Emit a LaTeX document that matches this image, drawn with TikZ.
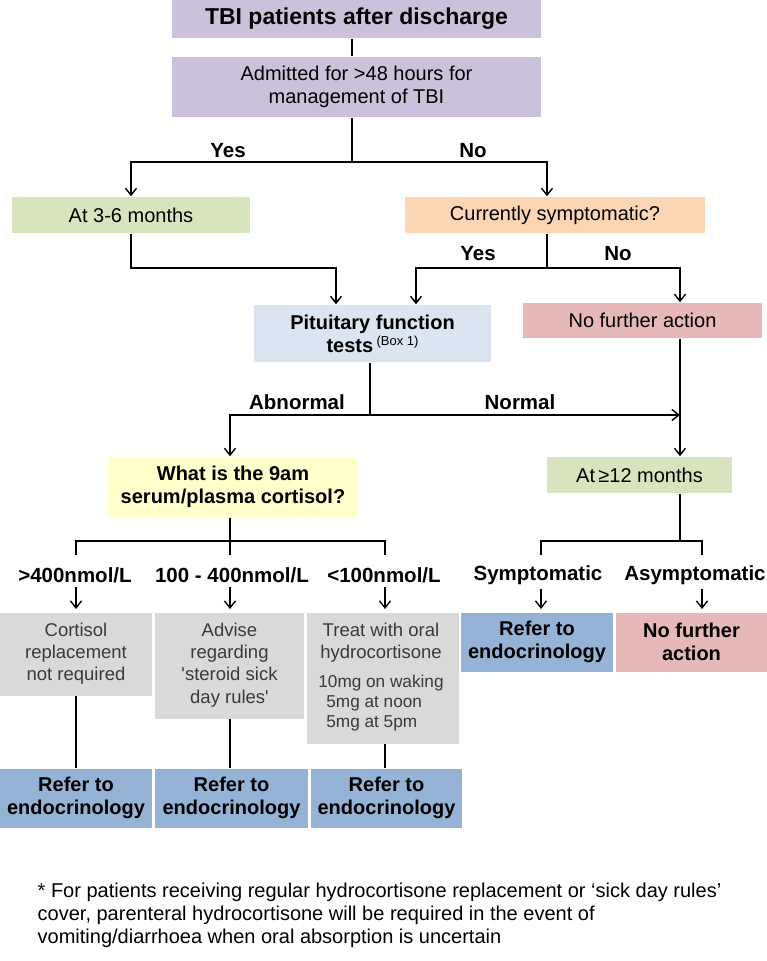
\documentclass[tikz,border=0pt]{standalone}
\usepackage{fontspec}
\setmainfont{Liberation Sans}
\usetikzlibrary{arrows.meta,calc}
\definecolor{cpurple}{HTML}{CCC1DA}
\definecolor{cgreen}{HTML}{D7E4BD}
\definecolor{corange}{HTML}{FCD5B5}
\definecolor{cltblue}{HTML}{DBE5F1}
\definecolor{cpink}{HTML}{E6B9B8}
\definecolor{cyellow}{HTML}{FFFFCC}
\definecolor{cgray}{HTML}{D9D9D9}
\definecolor{cblue}{HTML}{95B3D7}
\definecolor{gtext}{HTML}{3A3A3A}
\newcommand\straightq{\XeTeXglyph\XeTeXcharglyph"27\relax}
\begin{document}
\begin{tikzpicture}[x=1pt,y=-1pt, line width=1.4pt,
  box/.style={rectangle, inner sep=0pt, align=center, font=\fontsize{20}{23}\selectfont},
  bbox/.style={box, font=\fontsize{20}{23}\selectfont\bfseries},
  gbox/.style={box, fill=cgray, text=gtext, font=\fontsize{18.5}{22.3}\selectfont},
  lab/.style={inner sep=1pt, font=\fontsize{20.5}{24}\selectfont\bfseries},
  arr/.style={-{Straight Barb[length=7pt,width=11pt,line width=1.4pt]}}]
\useasboundingbox (0,0) rectangle (767,961);

% top
\node[bbox, fill=cpurple, minimum width=369, minimum height=38, font=\fontsize{23}{27}\selectfont\bfseries] (n1) at (356.5,19) {TBI patients after discharge};
\node[box, fill=cpurple, minimum width=369, minimum height=60] (n2) at (356.5,87) {Admitted for >48 hours for\\management of TBI};
\node[box, fill=cgreen, minimum width=238, minimum height=36] (n3) at (131,215) {At 3-6 months};
\node[box, fill=corange, minimum width=300, minimum height=36] (n4) at (555,215) {Currently symptomatic?};
\node[bbox, fill=cltblue, minimum width=237, minimum height=57] (n5) at (372.5,333.5) {Pituitary function\\tests\,{\mdseries\fontsize{13}{15}\selectfont\raisebox{6.5pt}{(Box 1)}}};
\node[box, fill=cpink, minimum width=239, minimum height=35] (n6) at (642.5,320.5) {No further action};
\node[bbox, fill=cyellow, minimum width=250, minimum height=60] (n7) at (233,487) {What is the 9am\\serum/plasma cortisol?};
\node[box, fill=cgreen, minimum width=185, minimum height=36] (n8) at (639.5,475) {At\,≥12 months};

% labels
\node[lab] (ly1) at (228,151) {Yes};
\node[lab] (ln1) at (473,151) {No};
\node[lab] (ly2) at (478,254) {Yes};
\node[lab] (ln2) at (618,254) {No};
\node[lab] (lab1) at (297,402) {Abnormal};
\node[lab] (lab2) at (520,402) {Normal};
\node[lab] (l1) at (75,575) {>400nmol/L};
\node[lab] (l2) at (232,575) {100 - 400nmol/L};
\node[lab] (l3) at (384,575) {<100nmol/L};
\node[lab] (l4) at (538,575) {Symptomatic};
\node[lab] (l5) at (695,575) {Asymptomatic};

% bottom row
\node[gbox, minimum width=152, minimum height=83, anchor=north] (g1) at (76,612) {};
\node[gbox, anchor=north] at (76,622) {Cortisol\\replacement\\not required};
\node[gbox, minimum width=149, minimum height=106, anchor=north] (g2) at (229.5,612) {};
\node[gbox, anchor=north] at (229.5,622) {Advise\\regarding\\\straightq steroid sick\\day rules\straightq};
\node[gbox, minimum width=152, minimum height=131, anchor=north] (g3) at (383,612) {};
\node[gbox, anchor=north] at (381,622) {Treat with oral\\hydrocortisone};
\node[gbox, anchor=north, align=left, font=\fontsize{17.2}{20.3}\selectfont] at (381,674) {10mg on waking\\\hspace*{8pt}5mg at noon\\\hspace*{8pt}5mg at 5pm};
\node[bbox, fill=cblue, minimum width=152, minimum height=59, anchor=north] (b4) at (537,612) {Refer to\\endocrinology};
\node[bbox, fill=cpink, minimum width=151, minimum height=59, anchor=north] (p5) at (691.5,612) {No further\\action};
\node[bbox, fill=cblue, minimum width=152, minimum height=59, anchor=north] (r1) at (76,768) {Refer to\\endocrinology};
\node[bbox, fill=cblue, minimum width=153, minimum height=59, anchor=north] (r2) at (231.5,768) {Refer to\\endocrinology};
\node[bbox, fill=cblue, minimum width=151, minimum height=59, anchor=north] (r3) at (386.5,768) {Refer to\\endocrinology};

% footnote
\node[anchor=north west, inner sep=0pt, align=left, font=\fontsize{20}{23}\selectfont] (fn) at (37,882) {* For patients receiving regular hydrocortisone replacement or ‘sick day rules’\\cover, parenteral hydrocortisone will be required in the event of\\vomiting/diarrhoea when oral absorption is uncertain};

% connectors
\coordinate (j1) at (352,162);
\draw (n1.south -| j1) -- (n2.north -| j1);
\draw (n2.south -| j1) -- (j1);
\draw[arr] (j1) -| (n3.north);
\draw[arr] (j1) -| ($(n4.north)+(-8,0)$);

\coordinate (j2) at (336,268);
\draw[arr] (n3.south) |- (j2) -- (j2 |- n5.north);
\coordinate (j3) at (547,268);
\coordinate (j3l) at (416,268);
\coordinate (j3r) at (680,268);
\draw (n4.south -| j3) -- (j3);
\draw[arr] (j3) -- (j3l) -- (j3l |- n5.north);
\draw[arr] (j3) -- (j3r) -- (j3r |- n6.north);

\coordinate (j4) at (370,415);
\coordinate (j4l) at (230,415);
\coordinate (j4r) at (680,415);
\draw (n5.south -| j4) -- (j4);
\draw[arr] (j4) -- (j4l) -- (j4l |- n7.north);
\draw[arr] (j4) -- (j4r);
\draw[arr] (n6.south -| j4r) -- (j4r |- n8.north);

\coordinate (t1) at (76,541);
\coordinate (t2) at (230,541);
\coordinate (t3) at (385,541);
\draw (n7.south -| t2) -- (t2);
\draw ($(t1)+(0,14)$) -- (t1) -- (t3) -- ($(t3)+(0,14)$);
\draw (t2) -- ++(0,14);
\coordinate (t4) at (541,541);
\coordinate (t5) at (702,541);
\coordinate (j6) at (680,541);
\draw (n8.south -| j6) -- (j6);
\draw ($(t4)+(0,14)$) -- (t4) -- (t5) -- ($(t5)+(0,14)$);

\draw[arr] (l1.south -| t1) ++(0,3) -- ($(g1.north -| t1)+(0,-3)$);
\draw[arr] (l2.south -| t2) ++(0,3) -- ($(g2.north -| t2)+(0,-3)$);
\draw[arr] (l3.south -| t3) ++(0,3) -- ($(g3.north -| t3)+(0,-3)$);
\draw[arr] (l4.south -| t4) ++(0,3) -- ($(b4.north -| t4)+(0,-3)$);
\draw[arr] (l5.south -| t5) ++(0,3) -- ($(p5.north -| t5)+(0,-3)$);

\draw (g1.south -| t1) -- (r1.north -| t1);
\draw (g2.south -| t2) -- (r2.north -| t2);
\draw (g3.south -| t3) -- (r3.north -| t3);
\end{tikzpicture}
\end{document}
